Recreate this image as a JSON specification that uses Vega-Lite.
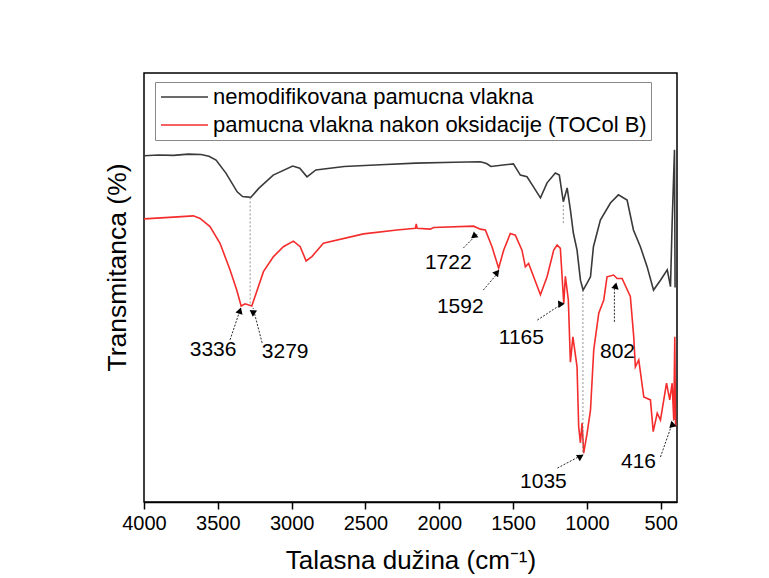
{
  "$schema": "https://vega.github.io/schema/vega-lite/v6.json",
  "width": 533,
  "height": 429,
  "autosize": {"type": "none"},
  "padding": {"left": 144, "top": 73, "right": 92, "bottom": 76},
  "background": "white",
  "config": {
    "view": {"stroke": "black", "strokeWidth": 1.5},
    "font": "Liberation Sans"
  },
  "datasets": {
    "spectra": [
      {"wn": 4000, "T": 80.7, "s": "nemodifikovana pamucna vlakna"},
      {"wn": 3900, "T": 80.9, "s": "nemodifikovana pamucna vlakna"},
      {"wn": 3800, "T": 80.8, "s": "nemodifikovana pamucna vlakna"},
      {"wn": 3700, "T": 81.1, "s": "nemodifikovana pamucna vlakna"},
      {"wn": 3614, "T": 81.0, "s": "nemodifikovana pamucna vlakna"},
      {"wn": 3560, "T": 80.6, "s": "nemodifikovana pamucna vlakna"},
      {"wn": 3512, "T": 79.7, "s": "nemodifikovana pamucna vlakna"},
      {"wn": 3444, "T": 76.6, "s": "nemodifikovana pamucna vlakna"},
      {"wn": 3369, "T": 72.3, "s": "nemodifikovana pamucna vlakna"},
      {"wn": 3332, "T": 71.2, "s": "nemodifikovana pamucna vlakna"},
      {"wn": 3277, "T": 71.0, "s": "nemodifikovana pamucna vlakna"},
      {"wn": 3223, "T": 73.1, "s": "nemodifikovana pamucna vlakna"},
      {"wn": 3125, "T": 76.2, "s": "nemodifikovana pamucna vlakna"},
      {"wn": 2993, "T": 78.3, "s": "nemodifikovana pamucna vlakna"},
      {"wn": 2945, "T": 77.8, "s": "nemodifikovana pamucna vlakna"},
      {"wn": 2896, "T": 75.8, "s": "nemodifikovana pamucna vlakna"},
      {"wn": 2836, "T": 77.4, "s": "nemodifikovana pamucna vlakna"},
      {"wn": 2644, "T": 78.2, "s": "nemodifikovana pamucna vlakna"},
      {"wn": 2400, "T": 78.6, "s": "nemodifikovana pamucna vlakna"},
      {"wn": 2158, "T": 79.0, "s": "nemodifikovana pamucna vlakna"},
      {"wn": 1900, "T": 79.2, "s": "nemodifikovana pamucna vlakna"},
      {"wn": 1722, "T": 79.3, "s": "nemodifikovana pamucna vlakna"},
      {"wn": 1680, "T": 78.9, "s": "nemodifikovana pamucna vlakna"},
      {"wn": 1650, "T": 78.2, "s": "nemodifikovana pamucna vlakna"},
      {"wn": 1553, "T": 78.6, "s": "nemodifikovana pamucna vlakna"},
      {"wn": 1498, "T": 78.8, "s": "nemodifikovana pamucna vlakna"},
      {"wn": 1451, "T": 76.2, "s": "nemodifikovana pamucna vlakna"},
      {"wn": 1406, "T": 75.8, "s": "nemodifikovana pamucna vlakna"},
      {"wn": 1363, "T": 73.5, "s": "nemodifikovana pamucna vlakna"},
      {"wn": 1315, "T": 70.9, "s": "nemodifikovana pamucna vlakna"},
      {"wn": 1270, "T": 74.4, "s": "nemodifikovana pamucna vlakna"},
      {"wn": 1214, "T": 76.7, "s": "nemodifikovana pamucna vlakna"},
      {"wn": 1187, "T": 76.2, "s": "nemodifikovana pamucna vlakna"},
      {"wn": 1160, "T": 70.0, "s": "nemodifikovana pamucna vlakna"},
      {"wn": 1134, "T": 73.2, "s": "nemodifikovana pamucna vlakna"},
      {"wn": 1112, "T": 68.1, "s": "nemodifikovana pamucna vlakna"},
      {"wn": 1092, "T": 62.7, "s": "nemodifikovana pamucna vlakna"},
      {"wn": 1067, "T": 58.7, "s": "nemodifikovana pamucna vlakna"},
      {"wn": 1044, "T": 51.7, "s": "nemodifikovana pamucna vlakna"},
      {"wn": 1026, "T": 49.4, "s": "nemodifikovana pamucna vlakna"},
      {"wn": 999, "T": 51.0, "s": "nemodifikovana pamucna vlakna"},
      {"wn": 976, "T": 52.5, "s": "nemodifikovana pamucna vlakna"},
      {"wn": 956, "T": 59.5, "s": "nemodifikovana pamucna vlakna"},
      {"wn": 909, "T": 65.7, "s": "nemodifikovana pamucna vlakna"},
      {"wn": 841, "T": 69.7, "s": "nemodifikovana pamucna vlakna"},
      {"wn": 787, "T": 71.6, "s": "nemodifikovana pamucna vlakna"},
      {"wn": 728, "T": 70.4, "s": "nemodifikovana pamucna vlakna"},
      {"wn": 685, "T": 63.4, "s": "nemodifikovana pamucna vlakna"},
      {"wn": 638, "T": 59.5, "s": "nemodifikovana pamucna vlakna"},
      {"wn": 592, "T": 54.8, "s": "nemodifikovana pamucna vlakna"},
      {"wn": 549, "T": 49.4, "s": "nemodifikovana pamucna vlakna"},
      {"wn": 502, "T": 51.7, "s": "nemodifikovana pamucna vlakna"},
      {"wn": 456, "T": 54.1, "s": "nemodifikovana pamucna vlakna"},
      {"wn": 434, "T": 50.2, "s": "nemodifikovana pamucna vlakna"},
      {"wn": 423, "T": 65.0, "s": "nemodifikovana pamucna vlakna"},
      {"wn": 407, "T": 82.1, "s": "nemodifikovana pamucna vlakna"},
      {"wn": 403, "T": 50.0, "s": "nemodifikovana pamucna vlakna"},
      {"wn": 4000, "T": 66.0, "s": "pamucna vlakna nakon oksidacije (TOCol B)"},
      {"wn": 3800, "T": 66.4, "s": "pamucna vlakna nakon oksidacije (TOCol B)"},
      {"wn": 3666, "T": 66.7, "s": "pamucna vlakna nakon oksidacije (TOCol B)"},
      {"wn": 3620, "T": 66.1, "s": "pamucna vlakna nakon oksidacije (TOCol B)"},
      {"wn": 3553, "T": 64.2, "s": "pamucna vlakna nakon oksidacije (TOCol B)"},
      {"wn": 3485, "T": 60.3, "s": "pamucna vlakna nakon oksidacije (TOCol B)"},
      {"wn": 3417, "T": 54.1, "s": "pamucna vlakna nakon oksidacije (TOCol B)"},
      {"wn": 3372, "T": 49.4, "s": "pamucna vlakna nakon oksidacije (TOCol B)"},
      {"wn": 3342, "T": 45.7, "s": "pamucna vlakna nakon oksidacije (TOCol B)"},
      {"wn": 3315, "T": 46.2, "s": "pamucna vlakna nakon oksidacije (TOCol B)"},
      {"wn": 3270, "T": 45.7, "s": "pamucna vlakna nakon oksidacije (TOCol B)"},
      {"wn": 3248, "T": 47.9, "s": "pamucna vlakna nakon oksidacije (TOCol B)"},
      {"wn": 3191, "T": 53.7, "s": "pamucna vlakna nakon oksidacije (TOCol B)"},
      {"wn": 3123, "T": 57.2, "s": "pamucna vlakna nakon oksidacije (TOCol B)"},
      {"wn": 3056, "T": 59.5, "s": "pamucna vlakna nakon oksidacije (TOCol B)"},
      {"wn": 2988, "T": 60.8, "s": "pamucna vlakna nakon oksidacije (TOCol B)"},
      {"wn": 2942, "T": 59.5, "s": "pamucna vlakna nakon oksidacije (TOCol B)"},
      {"wn": 2902, "T": 56.2, "s": "pamucna vlakna nakon oksidacije (TOCol B)"},
      {"wn": 2863, "T": 57.2, "s": "pamucna vlakna nakon oksidacije (TOCol B)"},
      {"wn": 2785, "T": 60.3, "s": "pamucna vlakna nakon oksidacije (TOCol B)"},
      {"wn": 2513, "T": 62.5, "s": "pamucna vlakna nakon oksidacije (TOCol B)"},
      {"wn": 2287, "T": 63.4, "s": "pamucna vlakna nakon oksidacije (TOCol B)"},
      {"wn": 2162, "T": 63.8, "s": "pamucna vlakna nakon oksidacije (TOCol B)"},
      {"wn": 2156, "T": 64.8, "s": "pamucna vlakna nakon oksidacije (TOCol B)"},
      {"wn": 2150, "T": 63.8, "s": "pamucna vlakna nakon oksidacije (TOCol B)"},
      {"wn": 2061, "T": 63.6, "s": "pamucna vlakna nakon oksidacije (TOCol B)"},
      {"wn": 2039, "T": 64.0, "s": "pamucna vlakna nakon oksidacije (TOCol B)"},
      {"wn": 1768, "T": 64.3, "s": "pamucna vlakna nakon oksidacije (TOCol B)"},
      {"wn": 1722, "T": 63.6, "s": "pamucna vlakna nakon oksidacije (TOCol B)"},
      {"wn": 1688, "T": 63.4, "s": "pamucna vlakna nakon oksidacije (TOCol B)"},
      {"wn": 1643, "T": 59.5, "s": "pamucna vlakna nakon oksidacije (TOCol B)"},
      {"wn": 1598, "T": 54.5, "s": "pamucna vlakna nakon oksidacije (TOCol B)"},
      {"wn": 1564, "T": 58.7, "s": "pamucna vlakna nakon oksidacije (TOCol B)"},
      {"wn": 1519, "T": 62.6, "s": "pamucna vlakna nakon oksidacije (TOCol B)"},
      {"wn": 1485, "T": 62.2, "s": "pamucna vlakna nakon oksidacije (TOCol B)"},
      {"wn": 1440, "T": 58.7, "s": "pamucna vlakna nakon oksidacije (TOCol B)"},
      {"wn": 1417, "T": 54.8, "s": "pamucna vlakna nakon oksidacije (TOCol B)"},
      {"wn": 1395, "T": 55.6, "s": "pamucna vlakna nakon oksidacije (TOCol B)"},
      {"wn": 1361, "T": 52.5, "s": "pamucna vlakna nakon oksidacije (TOCol B)"},
      {"wn": 1315, "T": 48.3, "s": "pamucna vlakna nakon oksidacije (TOCol B)"},
      {"wn": 1270, "T": 52.5, "s": "pamucna vlakna nakon oksidacije (TOCol B)"},
      {"wn": 1225, "T": 58.7, "s": "pamucna vlakna nakon oksidacije (TOCol B)"},
      {"wn": 1202, "T": 59.9, "s": "pamucna vlakna nakon oksidacije (TOCol B)"},
      {"wn": 1180, "T": 59.1, "s": "pamucna vlakna nakon oksidacije (TOCol B)"},
      {"wn": 1157, "T": 46.3, "s": "pamucna vlakna nakon oksidacije (TOCol B)"},
      {"wn": 1146, "T": 52.6, "s": "pamucna vlakna nakon oksidacije (TOCol B)"},
      {"wn": 1126, "T": 47.1, "s": "pamucna vlakna nakon oksidacije (TOCol B)"},
      {"wn": 1112, "T": 32.6, "s": "pamucna vlakna nakon oksidacije (TOCol B)"},
      {"wn": 1095, "T": 38.5, "s": "pamucna vlakna nakon oksidacije (TOCol B)"},
      {"wn": 1067, "T": 31.5, "s": "pamucna vlakna nakon oksidacije (TOCol B)"},
      {"wn": 1056, "T": 17.6, "s": "pamucna vlakna nakon oksidacije (TOCol B)"},
      {"wn": 1044, "T": 13.8, "s": "pamucna vlakna nakon oksidacije (TOCol B)"},
      {"wn": 1033, "T": 18.4, "s": "pamucna vlakna nakon oksidacije (TOCol B)"},
      {"wn": 1022, "T": 11.4, "s": "pamucna vlakna nakon oksidacije (TOCol B)"},
      {"wn": 999, "T": 16.0, "s": "pamucna vlakna nakon oksidacije (TOCol B)"},
      {"wn": 976, "T": 21.4, "s": "pamucna vlakna nakon oksidacije (TOCol B)"},
      {"wn": 954, "T": 35.4, "s": "pamucna vlakna nakon oksidacije (TOCol B)"},
      {"wn": 920, "T": 44.0, "s": "pamucna vlakna nakon oksidacije (TOCol B)"},
      {"wn": 886, "T": 47.1, "s": "pamucna vlakna nakon oksidacije (TOCol B)"},
      {"wn": 864, "T": 52.5, "s": "pamucna vlakna nakon oksidacije (TOCol B)"},
      {"wn": 819, "T": 52.9, "s": "pamucna vlakna nakon oksidacije (TOCol B)"},
      {"wn": 796, "T": 52.1, "s": "pamucna vlakna nakon oksidacije (TOCol B)"},
      {"wn": 762, "T": 52.1, "s": "pamucna vlakna nakon oksidacije (TOCol B)"},
      {"wn": 706, "T": 47.9, "s": "pamucna vlakna nakon oksidacije (TOCol B)"},
      {"wn": 683, "T": 38.5, "s": "pamucna vlakna nakon oksidacije (TOCol B)"},
      {"wn": 672, "T": 31.5, "s": "pamucna vlakna nakon oksidacije (TOCol B)"},
      {"wn": 649, "T": 33.1, "s": "pamucna vlakna nakon oksidacije (TOCol B)"},
      {"wn": 615, "T": 24.5, "s": "pamucna vlakna nakon oksidacije (TOCol B)"},
      {"wn": 570, "T": 23.8, "s": "pamucna vlakna nakon oksidacije (TOCol B)"},
      {"wn": 551, "T": 16.4, "s": "pamucna vlakna nakon oksidacije (TOCol B)"},
      {"wn": 524, "T": 20.7, "s": "pamucna vlakna nakon oksidacije (TOCol B)"},
      {"wn": 502, "T": 19.1, "s": "pamucna vlakna nakon oksidacije (TOCol B)"},
      {"wn": 461, "T": 27.7, "s": "pamucna vlakna nakon oksidacije (TOCol B)"},
      {"wn": 439, "T": 23.8, "s": "pamucna vlakna nakon oksidacije (TOCol B)"},
      {"wn": 423, "T": 27.7, "s": "pamucna vlakna nakon oksidacije (TOCol B)"},
      {"wn": 412, "T": 19.1, "s": "pamucna vlakna nakon oksidacije (TOCol B)"},
      {"wn": 405, "T": 38.5, "s": "pamucna vlakna nakon oksidacije (TOCol B)"},
      {"wn": 400, "T": 17.6, "s": "pamucna vlakna nakon oksidacije (TOCol B)"}
    ],
    "guides": [
      {"wn": 3281, "T": 71.0, "T2": 45.7},
      {"wn": 1160, "T": 69.2, "T2": 65.0},
      {"wn": 1027, "T": 49.4, "T2": 11.0}
    ],
    "ann": [
      {"label": "3336", "tx": 3532, "ty": 35.4, "ax": 3417, "ay": 37.8, "bx": 3342, "by": 45.5, "hx": 3350, "hy": 44.6},
      {"label": "3279", "tx": 3044, "ty": 35.0, "ax": 3200, "ay": 37.1, "bx": 3261, "by": 45.2, "hx": 3254, "hy": 44.3},
      {"label": "1722", "tx": 1939, "ty": 55.7, "ax": 1837, "ay": 59.2, "bx": 1736, "by": 62.7, "hx": 1755, "hy": 62.0},
      {"label": "1592", "tx": 1858, "ty": 45.5, "ax": 1702, "ay": 49.4, "bx": 1593, "by": 53.8, "hx": 1610, "hy": 53.1},
      {"label": "1165", "tx": 1444, "ty": 38.2, "ax": 1336, "ay": 42.4, "bx": 1160, "by": 46.4, "hx": 1183, "hy": 45.9},
      {"label": "802", "tx": 793, "ty": 35.0, "ax": 814, "ay": 42.0, "bx": 814, "by": 51.0, "hx": 814, "hy": 50.1},
      {"label": "1035", "tx": 1295, "ty": 4.7, "ax": 1200, "ay": 7.9, "bx": 1031, "by": 11.0, "hx": 1055, "hy": 10.6},
      {"label": "416", "tx": 651, "ty": 9.3, "ax": 502, "ay": 10.5, "bx": 414, "by": 19.1, "hx": 423, "hy": 18.2}
    ]
  },
  "layer": [
    {
      "data": {"name": "spectra"},
      "mark": {"type": "line", "strokeWidth": 1.6, "clip": true},
      "encoding": {
        "x": {
          "field": "wn", "type": "quantitative",
          "scale": {"domain": [390, 4000], "reverse": true, "nice": false, "zero": false},
          "axis": {
            "title": "Talasna dužina (cm⁻¹)",
            "values": [4000, 3750, 3500, 3250, 3000, 2750, 2500, 2250, 2000, 1750, 1500, 1250, 1000, 750, 500],
            "format": "d",
            "labelExpr": "datum.value % 500 === 0 ? datum.label : ''",
            "tickSize": {"condition": {"test": "datum.value % 500 === 0", "value": 7}, "value": 4},
            "tickColor": "black", "tickWidth": 1.5,
            "domainColor": "black", "domainWidth": 1.5,
            "labelFont": "Liberation Sans", "labelFontSize": 20, "labelColor": "black",
            "labelPadding": 4, "labelFlush": false, "labelOverlap": false,
            "titleFont": "Liberation Sans", "titleFontSize": 26, "titleFontWeight": "normal",
            "titleColor": "black", "titlePadding": 14, "grid": false
          }
        },
        "y": {
          "field": "T", "type": "quantitative",
          "scale": {"domain": [0, 100], "nice": false, "zero": false},
          "axis": {
            "title": "Transmitanca (%)", "labels": false, "ticks": false, "domain": false, "grid": false,
            "titleFont": "Liberation Sans", "titleFontSize": 26.5, "titleFontWeight": "normal",
            "titleColor": "black", "titlePadding": 13, "titleY": 194
          }
        },
        "color": {
          "field": "s", "type": "nominal",
          "scale": {
            "domain": ["nemodifikovana pamucna vlakna", "pamucna vlakna nakon oksidacije (TOCol B)"],
            "range": ["#3a3a3a", "#f42c2c"]
          },
          "legend": {
            "orient": "none", "legendX": 11, "legendY": 9, "title": null,
            "symbolType": "M-1.8,0H7.6", "symbolSize": 100, "symbolStrokeWidth": 1.6,
            "labelFont": "Liberation Sans", "labelFontSize": 22, "labelColor": "black", "labelLimit": 0,
            "labelOffset": 32, "strokeColor": "#888888", "padding": 4, "rowPadding": 6
          }
        }
      }
    },
    {
      "data": {"name": "guides"},
      "mark": {"type": "rule", "color": "#777777", "strokeWidth": 0.8, "strokeDash": [2, 2]},
      "encoding": {
        "x": {"field": "wn", "type": "quantitative"},
        "y": {"field": "T", "type": "quantitative"},
        "y2": {"field": "T2"}
      }
    },
    {
      "data": {"name": "ann"},
      "mark": {"type": "rule", "color": "#111111", "strokeWidth": 0.9, "strokeDash": [2, 1.5]},
      "encoding": {
        "x": {"field": "ax", "type": "quantitative"},
        "y": {"field": "ay", "type": "quantitative"},
        "x2": {"field": "bx"},
        "y2": {"field": "by"}
      }
    },
    {
      "data": {"name": "ann"},
      "mark": {"type": "point", "shape": "triangle-up", "filled": true, "color": "black", "size": 55, "opacity": 1},
      "encoding": {
        "x": {"field": "hx", "type": "quantitative"},
        "y": {"field": "hy", "type": "quantitative"},
        "angle": {
          "field": "label", "type": "nominal", "legend": null,
          "scale": {"domain": ["3336", "3279", "1722", "1592", "1165", "802", "1035", "416"], "range": [18, 346, 45, 40, 57, 0, 62, 19]}
        }
      }
    },
    {
      "data": {"name": "ann"},
      "mark": {"type": "text", "font": "Liberation Sans", "fontSize": 21, "color": "black", "align": "center", "baseline": "middle"},
      "encoding": {
        "x": {"field": "tx", "type": "quantitative"},
        "y": {"field": "ty", "type": "quantitative"},
        "text": {"field": "label", "type": "nominal"}
      }
    }
  ]
}
